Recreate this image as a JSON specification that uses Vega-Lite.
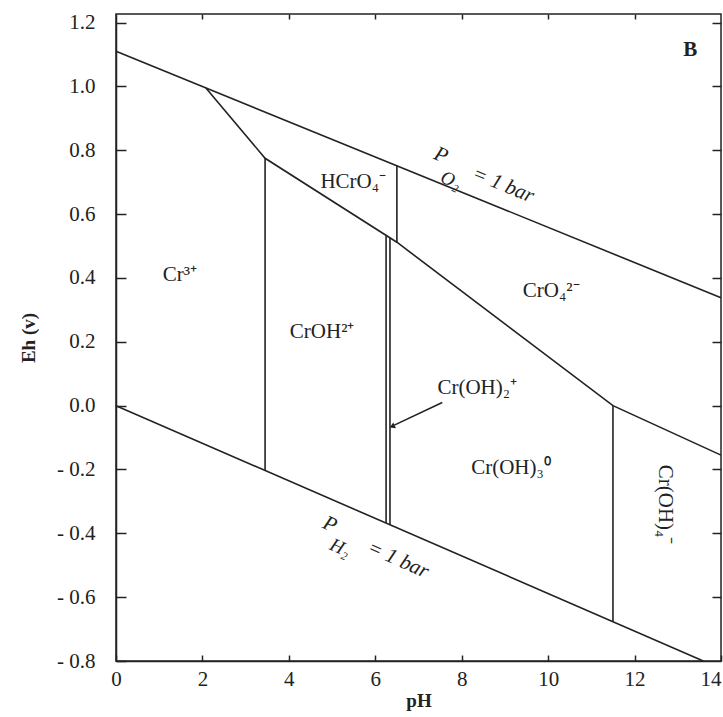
{
  "$schema": "https://vega.github.io/schema/vega-lite/v6.json",
  "width": 605,
  "height": 647,
  "autosize": {"type": "none"},
  "padding": {"left": 116, "top": 14, "right": 2, "bottom": 56},
  "background": "white",
  "config": {
    "view": {"stroke": "#222", "strokeWidth": 1.5},
    "font": "Liberation Serif",
    "axis": {"grid": false, "domainColor": "#222", "domainWidth": 1.5, "tickColor": "#222", "tickWidth": 1.5, "labelFont": "Liberation Serif", "labelFontSize": 21, "labelColor": "#222", "titleFont": "Liberation Serif", "titleFontSize": 19, "titleFontWeight": "bold", "titleColor": "#222"}
  },
  "datasets": {
    "lines": [
      {"seg": "O2", "ord": 1, "pH": 0, "Eh": 1.11},
      {"seg": "O2", "ord": 2, "pH": 14, "Eh": 0.338},
      {"seg": "H2", "ord": 1, "pH": 0, "Eh": 0.0},
      {"seg": "H2", "ord": 2, "pH": 13.59, "Eh": -0.8},
      {"seg": "B1", "ord": 1, "pH": 2.08, "Eh": 0.995},
      {"seg": "B1", "ord": 2, "pH": 3.45, "Eh": 0.775},
      {"seg": "B1", "ord": 3, "pH": 6.5, "Eh": 0.512},
      {"seg": "B1", "ord": 4, "pH": 11.5, "Eh": 0.0},
      {"seg": "B1", "ord": 5, "pH": 14, "Eh": -0.155},
      {"seg": "V1", "ord": 1, "pH": 3.45, "Eh": 0.775},
      {"seg": "V1", "ord": 2, "pH": 3.45, "Eh": -0.203},
      {"seg": "V2", "ord": 1, "pH": 6.5, "Eh": 0.751},
      {"seg": "V2", "ord": 2, "pH": 6.5, "Eh": 0.512},
      {"seg": "V3", "ord": 1, "pH": 6.25, "Eh": 0.534},
      {"seg": "V3", "ord": 2, "pH": 6.25, "Eh": -0.368},
      {"seg": "V4", "ord": 1, "pH": 6.34, "Eh": 0.526},
      {"seg": "V4", "ord": 2, "pH": 6.34, "Eh": -0.373},
      {"seg": "V5", "ord": 1, "pH": 11.5, "Eh": 0.0},
      {"seg": "V5", "ord": 2, "pH": 11.5, "Eh": -0.677},
      {"seg": "A", "ord": 1, "pH": 7.55, "Eh": 0.01},
      {"seg": "A", "ord": 2, "pH": 6.44, "Eh": -0.061}
    ],
    "regions": [
      {"label": "Cr³⁺", "pH": 1.48, "Eh": 0.41},
      {"label": "HCrO₄⁻", "pH": 5.49, "Eh": 0.7},
      {"label": "CrOH²⁺", "pH": 4.77, "Eh": 0.23},
      {"label": "CrO₄²⁻", "pH": 10.07, "Eh": 0.36},
      {"label": "Cr(OH)₂⁺", "pH": 8.36, "Eh": 0.055},
      {"label": "Cr(OH)₃⁰", "pH": 9.14, "Eh": -0.195}
    ],
    "vert": [{"label": "Cr(OH)₄⁻", "pH": 12.71, "Eh": -0.31}],
    "panel": [{"label": "B", "pH": 13.29, "Eh": 1.113}],
    "pO2": [
      {"label": "P", "pH": 7.52, "Eh": 0.784},
      {"label": "= 1 bar", "pH": 8.96, "Eh": 0.691}
    ],
    "pO2sub": [{"label": "O₂", "pH": 7.75, "Eh": 0.707}],
    "pH2": [
      {"label": "P", "pH": 4.95, "Eh": -0.373},
      {"label": "= 1 bar", "pH": 6.53, "Eh": -0.483}
    ],
    "pH2sub": [{"label": "H₂", "pH": 5.19, "Eh": -0.445}],
    "head": [{"pH": 6.41, "Eh": -0.064}]
  },
  "layer": [
    {
      "data": {"name": "lines"},
      "mark": {"type": "line", "color": "#222", "strokeWidth": 1.6},
      "encoding": {
        "x": {"field": "pH", "type": "quantitative", "scale": {"domain": [0, 14], "nice": false}, "axis": {"orient": "bottom", "title": "pH", "values": [0, 2, 4, 6, 8, 10, 12, 14], "format": "d", "tickSize": -6, "labelPadding": 13, "titlePadding": 2, "labelFlush": false, "labelAlign": {"condition": {"test": "datum.value == 14", "value": "right"}, "value": "center"}}},
        "y": {"field": "Eh", "type": "quantitative", "scale": {"domain": [-0.8, 1.227], "nice": false}, "axis": {"orient": "left", "title": "Eh (v)", "values": [-0.8, -0.6, -0.4, -0.2, 0, 0.2, 0.4, 0.6, 0.8, 1.0, 1.2], "labelExpr": "datum.value < -0.001 ? '- ' + format(-datum.value, '.1f') : format(datum.value, '.1f')", "tickSize": -10, "labelPadding": 31, "titlePadding": 18}},
        "detail": {"field": "seg"},
        "order": {"field": "ord"}
      }
    },
    {
      "data": {"name": "head"},
      "mark": {"type": "point", "shape": "triangle", "filled": true, "color": "#222", "size": 40, "angle": 245, "opacity": 1},
      "encoding": {
        "x": {"field": "pH", "type": "quantitative", "axis": {"orient": "top", "values": [2, 4, 6, 8, 10, 12], "labels": false, "title": null, "tickSize": -5, "domain": false}},
        "y": {"field": "Eh", "type": "quantitative", "axis": {"orient": "right", "values": [-0.6, -0.4, -0.2, 0, 0.2, 0.4, 0.6, 0.8, 1.0, 1.2], "labels": false, "title": null, "tickSize": -9, "domain": false}}
      }
    },
    {
      "data": {"name": "regions"},
      "mark": {"type": "text", "font": "Liberation Serif", "fontSize": 21, "color": "#222"},
      "encoding": {
        "x": {"field": "pH", "type": "quantitative", "axis": null},
        "y": {"field": "Eh", "type": "quantitative", "axis": null},
        "text": {"field": "label"}
      }
    },
    {
      "data": {"name": "vert"},
      "mark": {"type": "text", "font": "Liberation Serif", "fontSize": 21, "color": "#222", "angle": 90},
      "encoding": {
        "x": {"field": "pH", "type": "quantitative", "axis": null},
        "y": {"field": "Eh", "type": "quantitative", "axis": null},
        "text": {"field": "label"}
      }
    },
    {
      "data": {"name": "panel"},
      "mark": {"type": "text", "font": "Liberation Serif", "fontSize": 21, "fontWeight": "bold", "color": "#222"},
      "encoding": {
        "x": {"field": "pH", "type": "quantitative", "axis": null},
        "y": {"field": "Eh", "type": "quantitative", "axis": null},
        "text": {"field": "label"}
      }
    },
    {
      "data": {"name": "pO2"},
      "mark": {"type": "text", "font": "Liberation Serif", "fontSize": 21, "fontStyle": "italic", "color": "#222", "angle": 22},
      "encoding": {
        "x": {"field": "pH", "type": "quantitative", "axis": null},
        "y": {"field": "Eh", "type": "quantitative", "axis": null},
        "text": {"field": "label"}
      }
    },
    {
      "data": {"name": "pO2sub"},
      "mark": {"type": "text", "font": "Liberation Serif", "fontSize": 19, "fontStyle": "italic", "color": "#222", "angle": 22},
      "encoding": {
        "x": {"field": "pH", "type": "quantitative", "axis": null},
        "y": {"field": "Eh", "type": "quantitative", "axis": null},
        "text": {"field": "label"}
      }
    },
    {
      "data": {"name": "pH2"},
      "mark": {"type": "text", "font": "Liberation Serif", "fontSize": 21, "fontStyle": "italic", "color": "#222", "angle": 24},
      "encoding": {
        "x": {"field": "pH", "type": "quantitative", "axis": null},
        "y": {"field": "Eh", "type": "quantitative", "axis": null},
        "text": {"field": "label"}
      }
    },
    {
      "data": {"name": "pH2sub"},
      "mark": {"type": "text", "font": "Liberation Serif", "fontSize": 19, "fontStyle": "italic", "color": "#222", "angle": 24},
      "encoding": {
        "x": {"field": "pH", "type": "quantitative", "axis": null},
        "y": {"field": "Eh", "type": "quantitative", "axis": null},
        "text": {"field": "label"}
      }
    }
  ],
  "resolve": {"axis": {"x": "independent", "y": "independent"}}
}
